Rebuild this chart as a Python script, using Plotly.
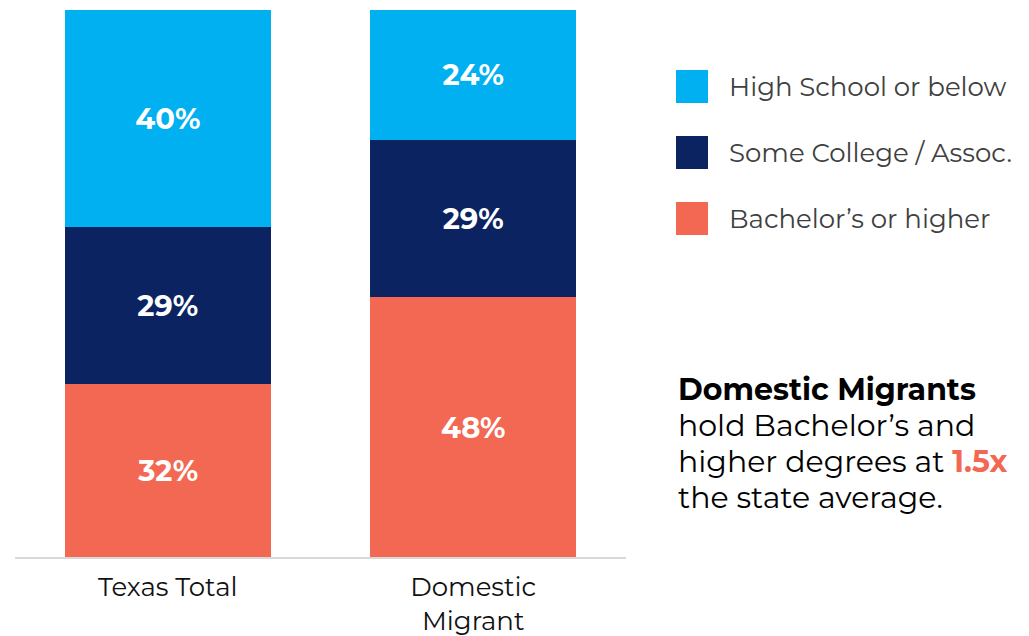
import plotly.graph_objects as go

categories = ["Texas Total", "Domestic<br>Migrant"]
series_names = ["Bachelor’s or higher", "Some College / Assoc.", "High School or below"]
bachelor = [32, 48]
some_college = [29, 29]
high_school = [40, 24]
colors = ["#F26852", "#0B2361", "#00B0F0"]

W, H = 1029, 636
OFF = 8  # page body margin offset
PL, PT, PR, PB = 15, 10, 626, 557  # plot area in screenshot pixels
ML, MT = PL - OFF, PT - OFF
PW, PH = PR - PL, PB - PT
MR, MB = W - ML - PW, H - MT - PH

def px_x(x):
    return (x - PL) / PW

def px_y(y):
    return (PB - y) / PH

FONT = "Montserrat, Open Sans, sans-serif"

fig = go.Figure()
for name, vals, col in zip(series_names, [bachelor, some_college, high_school], colors):
    fig.add_trace(go.Bar(
        x=categories, y=vals, name=name, marker=dict(color=col, line=dict(width=0)),
        texttemplate="<b>%{y}%</b>", textposition="inside", insidetextanchor="middle",
        textfont=dict(color="white", size=29, family=FONT),
        showlegend=False, hoverinfo="skip",
    ))

shapes = []
annotations = []
legend_rows = [(70, "High School or below", colors[2]),
               (136, "Some College / Assoc.", colors[1]),
               (202, "Bachelor’s or higher", colors[0])]
for top, label, col in legend_rows:
    shapes.append(dict(type="rect", xref="paper", yref="paper",
                       x0=px_x(676), x1=px_x(708), y0=px_y(top + 33), y1=px_y(top),
                       fillcolor=col, line=dict(width=0)))
    annotations.append(dict(xref="paper", yref="paper", x=px_x(727), y=px_y(top + 17),
                            xanchor="left", yanchor="middle", showarrow=False,
                            text=label, font=dict(size=26, color="#404040", family=FONT)))

note_lines = [
    (390, "<b>Domestic Migrants</b>"),
    (425, "hold Bachelor’s and"),
    (461, "higher degrees at <b><span style='color:#F26852'>1.5x</span></b>"),
    (497, "the state average."),
]
for yc, txt in note_lines:
    annotations.append(dict(
        xref="paper", yref="paper", x=px_x(676), y=px_y(yc), xanchor="left", yanchor="middle",
        align="left", showarrow=False, text=txt,
        font=dict(size=30, color="#000000", family=FONT)))

fig.update_layout(
    width=W, height=H, margin=dict(l=ML, r=MR, t=MT, b=MB),
    barmode="stack", bargap=0.326,
    paper_bgcolor="white", plot_bgcolor="white",
    shapes=shapes, annotations=annotations,
    xaxis=dict(showline=True, linecolor="#D9D9D9", linewidth=2, ticks="",
               ticklabelstandoff=6,
               tickfont=dict(size=26, color="#111111", family=FONT), showgrid=False),
    yaxis=dict(range=[0, 101], visible=False, showgrid=False),
)

fig.write_html("out.html")
